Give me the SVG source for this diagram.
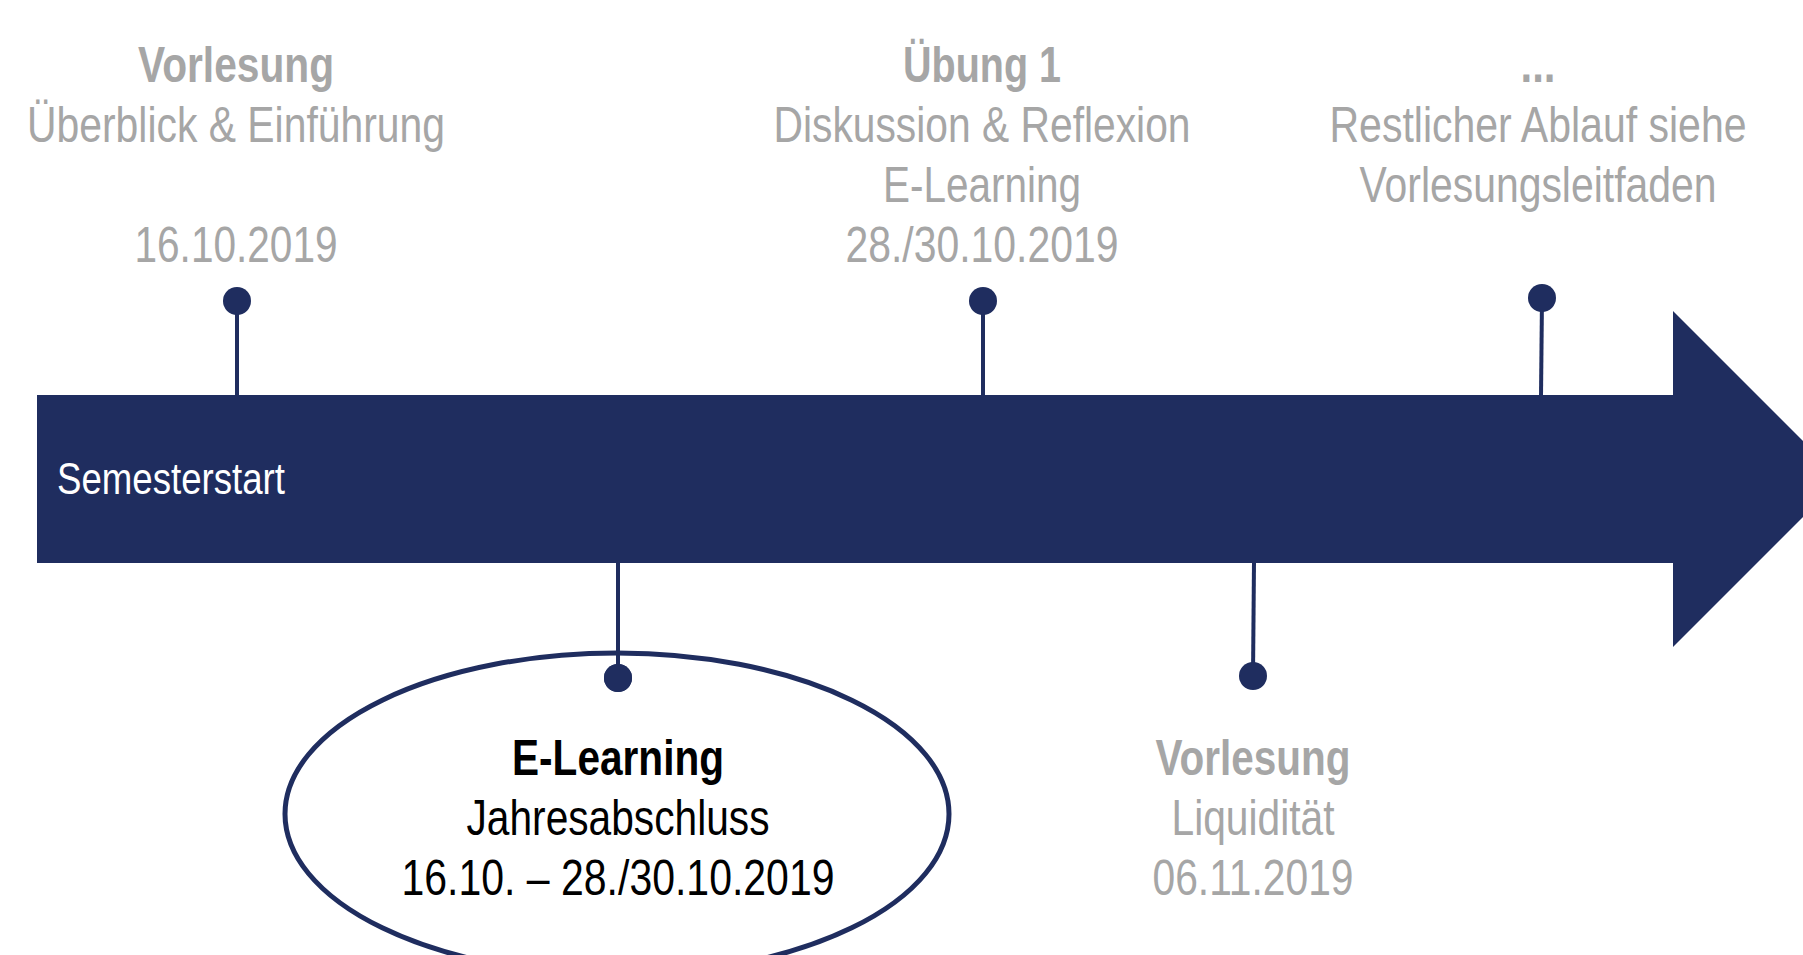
<svg xmlns="http://www.w3.org/2000/svg" width="1803" height="955" viewBox="0 0 1803 955">
<style>
.t{font-family:"Liberation Sans Narrow","Arial Narrow","Liberation Sans",Arial,sans-serif;font-size:50px;text-anchor:middle;fill:#a6a6a6}
.b{font-weight:bold}
.k{fill:#000}
.pin{stroke:#1f2d5f;stroke-width:4;fill:none}
.dot{fill:#1f2d5f}
</style>
<rect width="1803" height="955" fill="#fff"/>
<g id="timeline">
<polygon points="37,395 1673,395 1673,311 1841,479 1673,647 1673,563 37,563" fill="#1f2d5f"/>
<text x="57" y="494" font-family="'Liberation Sans Narrow','Arial Narrow','Liberation Sans',Arial,sans-serif" font-size="44" fill="#fff" textLength="228" lengthAdjust="spacingAndGlyphs">Semesterstart</text>
</g>
<g id="connectors">
<line class="pin" x1="237" y1="301" x2="237" y2="396"/>
<line class="pin" x1="983" y1="301" x2="983" y2="396"/>
<line class="pin" x1="1542" y1="298" x2="1541" y2="396"/>
<line class="pin" x1="618" y1="562" x2="618" y2="678"/>
<line class="pin" x1="1254" y1="562" x2="1253" y2="676"/>
<circle class="dot" cx="237" cy="301" r="14"/>
<circle class="dot" cx="983" cy="301" r="14"/>
<circle class="dot" cx="1542" cy="298" r="14"/>
<circle class="dot" cx="618" cy="678" r="14"/>
<circle class="dot" cx="1253" cy="676" r="14"/>
</g>
<g id="node-vorlesung1">
<text class="t b" x="236" y="82" textLength="196" lengthAdjust="spacingAndGlyphs">Vorlesung</text>
<text class="t" x="236" y="142" textLength="418" lengthAdjust="spacingAndGlyphs">Überblick &amp; Einführung</text>
<text class="t" x="236" y="262" textLength="203" lengthAdjust="spacingAndGlyphs">16.10.2019</text>
</g>
<g id="node-uebung1">
<text class="t b" x="982" y="82" textLength="158" lengthAdjust="spacingAndGlyphs">Übung 1</text>
<text class="t" x="982" y="142" textLength="417" lengthAdjust="spacingAndGlyphs">Diskussion &amp; Reflexion</text>
<text class="t" x="982" y="202" textLength="198" lengthAdjust="spacingAndGlyphs">E-Learning</text>
<text class="t" x="982" y="262" textLength="273" lengthAdjust="spacingAndGlyphs">28./30.10.2019</text>
</g>
<g id="node-rest">
<text class="t b" x="1538" y="82" textLength="35" lengthAdjust="spacingAndGlyphs">...</text>
<text class="t" x="1538" y="142" textLength="417" lengthAdjust="spacingAndGlyphs">Restlicher Ablauf siehe</text>
<text class="t" x="1538" y="202" textLength="357" lengthAdjust="spacingAndGlyphs">Vorlesungsleitfaden</text>
</g>
<g id="node-elearning">
<ellipse cx="617" cy="814" rx="332" ry="161" fill="none" stroke="#1f2d5f" stroke-width="5"/>
<circle class="dot" cx="618" cy="678" r="14"/>
<text class="t b k" x="618" y="775" textLength="212" lengthAdjust="spacingAndGlyphs">E-Learning</text>
<text class="t k" x="618" y="835" textLength="303" lengthAdjust="spacingAndGlyphs">Jahresabschluss</text>
<text class="t k" x="618" y="895" textLength="433" lengthAdjust="spacingAndGlyphs">16.10. – 28./30.10.2019</text>
</g>
<g id="node-vorlesung2">
<text class="t b" x="1253" y="775" textLength="195" lengthAdjust="spacingAndGlyphs">Vorlesung</text>
<text class="t" x="1253" y="835" textLength="163" lengthAdjust="spacingAndGlyphs">Liquidität</text>
<text class="t" x="1253" y="895" textLength="201" lengthAdjust="spacingAndGlyphs">06.11.2019</text>
</g>
</svg>
